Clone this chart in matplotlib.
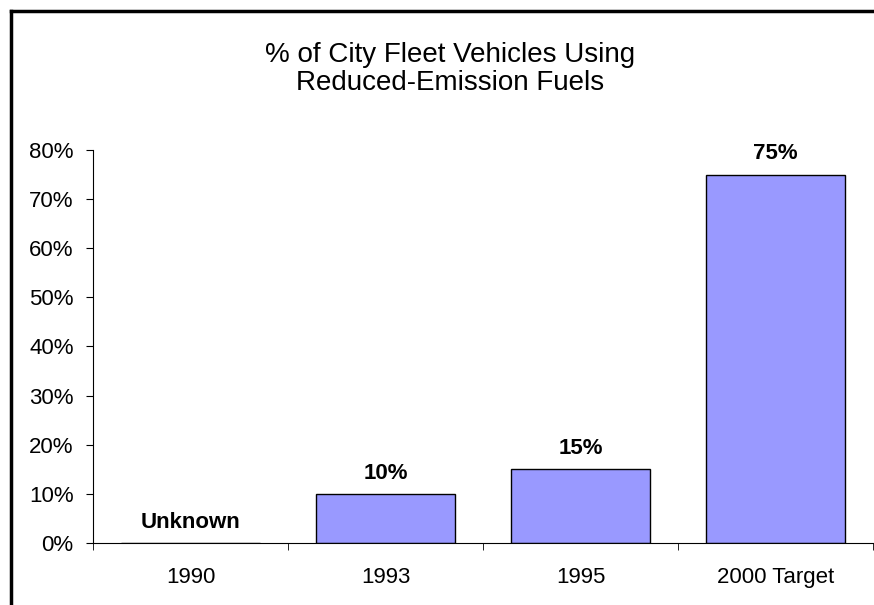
import matplotlib.pyplot as plt
from matplotlib.lines import Line2D
from matplotlib.ticker import PercentFormatter

plt.rcParams['font.family'] = ['Liberation Sans', 'DejaVu Sans']

# Data
categories = ['1990', '1993', '1995', '2000 Target']
values = [0, 10, 15, 75]
bar_labels = ['Unknown', '10%', '15%', '75%']

fig = plt.figure(figsize=(8.74, 6.05), dpi=100)
ax = fig.add_axes([93 / 874, 1 - 543 / 605, 780 / 874, 393 / 605])

x = range(len(categories))
bars = ax.bar(x, values, width=0.71, color='#9999FF', edgecolor='black', linewidth=1)

for xi, v, lab in zip(x, values, bar_labels):
    ax.annotate(lab, (xi, v), xytext=(0, 15), textcoords='offset points',
                ha='center', va='center', fontsize=16, fontweight='bold')

ax.set_xlim(-0.5, len(categories) - 0.5)
ax.set_ylim(0, 80)
ax.set_yticks(range(0, 81, 10))
ax.yaxis.set_major_formatter(PercentFormatter(decimals=0))
ax.set_xticks(x)
ax.set_xticklabels(categories)
ax.set_xticks([i - 0.5 for i in range(len(categories) + 1)], minor=True)
ax.tick_params(axis='x', which='major', length=0, pad=17, labelsize=16)
ax.tick_params(axis='x', which='minor', length=5, direction='out')
ax.tick_params(axis='y', length=5, direction='out', pad=9, labelsize=16)

ax.spines['top'].set_visible(False)
ax.spines['right'].set_visible(False)

fig.text(450 / 874, 1 - 69 / 605, '% of City Fleet Vehicles Using\nReduced-Emission Fuels',
         ha='center', va='center', fontsize=20, linespacing=1.1)

# outer frame (top and left edges)
fig.add_artist(Line2D([11 / 874, 11 / 874], [0, 1 - 11 / 605], color='black', lw=2.5,
                      transform=fig.transFigure))
fig.add_artist(Line2D([11 / 874, 1], [1 - 11 / 605, 1 - 11 / 605], color='black', lw=2.5,
                      transform=fig.transFigure))

fig.savefig('out.png', dpi=100)
